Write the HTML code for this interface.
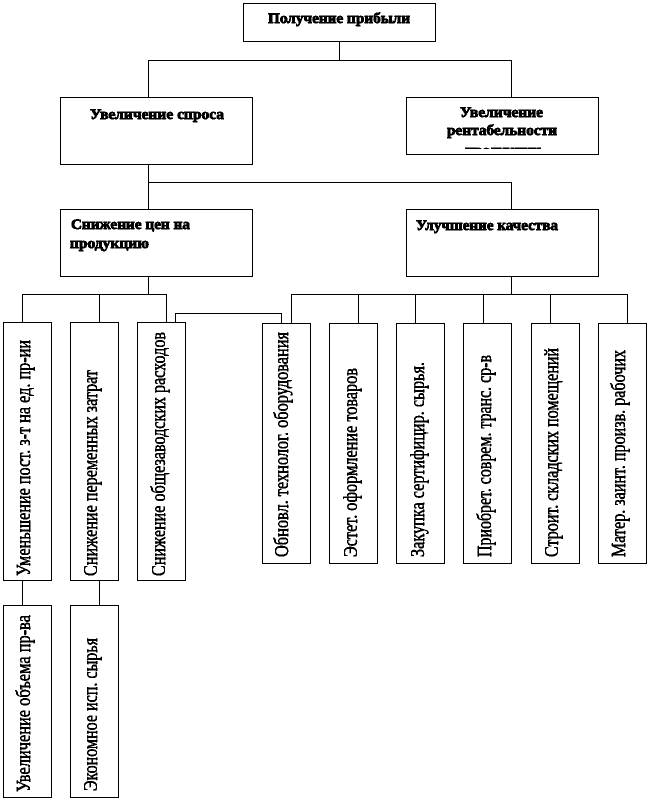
<!DOCTYPE html>
<html><head><meta charset="utf-8"><style>
html,body{margin:0;padding:0;background:#fff;width:649px;height:800px;overflow:hidden}
svg{display:block}
.b{font:bold 15px "Liberation Serif",serif;fill:#000;stroke:#000;stroke-width:.6;filter:url(#t)}
.v{font:20px "Liberation Serif",serif;fill:#000;stroke:#000;stroke-width:.3;filter:url(#t)}
rect{fill:#fff;stroke:#000;stroke-width:1}
path{fill:none;stroke:#000;stroke-width:1}
</style></head><body>
<svg width="649" height="800" viewBox="0 0 649 800" xmlns="http://www.w3.org/2000/svg">
<defs>
<clipPath id="c"><rect x="406" y="97" width="193" height="52"/></clipPath>
<filter id="t" x="-5%" y="-20%" width="110%" height="140%" color-interpolation-filters="sRGB">
<feComponentTransfer><feFuncA type="discrete" tableValues="0 1 1 1"/></feComponentTransfer>
</filter>
</defs>
<path d="M339.500 41V60.500M148.500 97V60.500H511.500V97M148.500 164V209M148.500 182.500H511.500V209M148.500 276V294.500M22.500 322V294.500H166.500V322M99.500 322V294.500M175.500 322V313.500H281.500V323M511.500 276V294.500M291.500 323V294.500H627.500V323M358.500 294.500V323M415.500 294.500V323M483.500 294.500V323M550.500 294.500V323M22.500 581V605M99.500 581V605"/>
<rect x="243.500" y="3.500" width="192" height="38"/>
<rect x="60.500" y="97.500" width="192" height="67"/>
<rect x="406.500" y="97.500" width="192" height="57"/>
<rect x="60.500" y="209.500" width="192" height="67"/>
<rect x="406.500" y="209.500" width="192" height="67"/>
<rect x="3.500" y="322.500" width="48" height="258"/>
<rect x="70.500" y="322.500" width="48" height="258"/>
<rect x="137.500" y="322.500" width="48" height="258"/>
<rect x="262.500" y="323.500" width="48" height="240"/>
<rect x="329.500" y="323.500" width="48" height="240"/>
<rect x="396.500" y="323.500" width="48" height="240"/>
<rect x="463.500" y="323.500" width="48" height="240"/>
<rect x="531.500" y="323.500" width="48" height="240"/>
<rect x="598.500" y="323.500" width="48" height="240"/>
<rect x="3.500" y="605.500" width="48" height="192"/>
<rect x="70.500" y="605.500" width="48" height="192"/>
<path d="M22.500 322V315M99.500 322V315M166.500 322V315M175.500 322V313.500M281.500 323V313.500M291.500 323V315"/>

<text class="b" x="268" y="23" textLength="142" lengthAdjust="spacingAndGlyphs">Получение прибыли</text>
<text class="b" x="90" y="119" textLength="134" lengthAdjust="spacingAndGlyphs">Увеличение спроса</text>
<text class="b" x="460" y="117" textLength="83" lengthAdjust="spacingAndGlyphs">Увеличение</text>
<text class="b" x="447" y="135" textLength="110" lengthAdjust="spacingAndGlyphs">рентабельности</text>
<g clip-path="url(#c)"><text class="b" x="465" y="155" textLength="76" lengthAdjust="spacingAndGlyphs">продукции</text></g>
<text class="b" x="71" y="229" textLength="119" lengthAdjust="spacingAndGlyphs">Снижение цен на</text>
<text class="b" x="70" y="248" textLength="79" lengthAdjust="spacingAndGlyphs">продукцию</text>
<text class="b" x="416" y="230" textLength="142" lengthAdjust="spacingAndGlyphs">Улучшение качества</text>

<text class="v" transform="translate(30 576) rotate(-90)" textLength="236" lengthAdjust="spacingAndGlyphs">Уменьшение пост. з-т на ед. пр-ии</text>
<text class="v" transform="translate(97 576) rotate(-90)" textLength="206" lengthAdjust="spacingAndGlyphs">Снижение переменных затрат</text>
<text class="v" transform="translate(165 576) rotate(-90)" textLength="244" lengthAdjust="spacingAndGlyphs">Снижение общезаводских расходов</text>
<text class="v" transform="translate(288 557) rotate(-90)" textLength="225" lengthAdjust="spacingAndGlyphs">Обновл. технолог. оборудования</text>
<text class="v" transform="translate(357 557) rotate(-90)" textLength="189" lengthAdjust="spacingAndGlyphs">Эстет. оформление товаров</text>
<text class="v" transform="translate(424 557) rotate(-90)" textLength="195" lengthAdjust="spacingAndGlyphs">Закупка сертифицир. сырья.</text>
<text class="v" transform="translate(491 557) rotate(-90)" textLength="202" lengthAdjust="spacingAndGlyphs">Приобрет. соврем. транс. ср-в</text>
<text class="v" transform="translate(558 557) rotate(-90)" textLength="209" lengthAdjust="spacingAndGlyphs">Строит. складских помещений</text>
<text class="v" transform="translate(625 557) rotate(-90)" textLength="207" lengthAdjust="spacingAndGlyphs">Матер. заинт. произв. рабочих</text>
<text class="v" transform="translate(30 792) rotate(-90)" textLength="177" lengthAdjust="spacingAndGlyphs">Увеличение объема пр-ва</text>
<text class="v" transform="translate(97 791) rotate(-90)" textLength="153" lengthAdjust="spacingAndGlyphs">Экономное исп. сырья</text>
</svg>
</body></html>
